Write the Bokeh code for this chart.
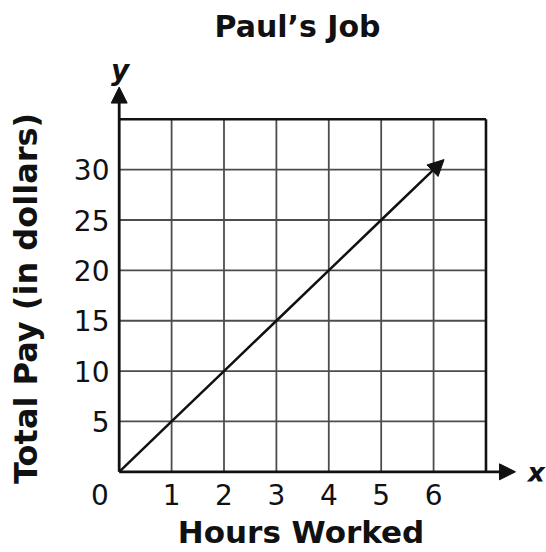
from bokeh.plotting import figure
from bokeh.models import Range1d, FixedTicker, Arrow, NormalHead, Label
from bokeh.embed import file_html
from bokeh.resources import INLINE

# ---- data ----
title_text = "Paul\u2019s Job"
x_label = "Hours Worked"
y_label = "Total Pay (in dollars)"
origin_label = "0"
x_ticks = [1, 2, 3, 4, 5, 6]
y_ticks = [5, 10, 15, 20, 25, 30]
x_max = 7
y_max = 35
hours = [0, 1, 2, 3, 4, 5, 6]
pay = [0, 5, 10, 15, 20, 25, 30]
arrow_end_hours = 6.2
arrow_end_pay = 31

FONT = "DejaVu Sans"
BLACK = "#111111"
FIG = "\u2007"      # figure space (used to shift centred labels)
PUNC = "\u2008"     # punctuation space

p = figure(width=546, height=552,
           x_range=Range1d(-0.166, 8.155), y_range=Range1d(-0.961, 42.03),
           output_backend="svg", toolbar_location=None,
           min_border_left=110, min_border_right=0,
           min_border_top=48, min_border_bottom=70,
           title=title_text, background_fill_color="white",
           border_fill_color="white")

p.title.text_font = FONT
p.title.text_font_size = "30px"
p.title.text_font_style = "bold"
p.title.text_color = BLACK
p.title.align = "left"
p.title.offset = 104
p.title.vertical_align = "bottom"
p.title.standoff = 10

p.xgrid.visible = False
p.ygrid.visible = False
p.outline_line_color = None

xa = p.xaxis[0]
ya = p.yaxis[0]
xa.ticker = FixedTicker(ticks=[0] + x_ticks)
xa.major_label_overrides = {0: origin_label + FIG + FIG + "\u200a"}
ya.ticker = FixedTicker(ticks=y_ticks)
xa.axis_label = x_label + FIG + FIG + PUNC
ya.axis_label = y_label + FIG + FIG + FIG

for ax in (xa, ya):
    ax.axis_label_text_font = FONT
    ax.axis_label_text_font_style = "bold"
    ax.axis_label_text_color = BLACK
    ax.major_label_text_font = FONT
    ax.major_label_text_font_size = "28px"
    ax.major_label_text_color = BLACK
    ax.major_tick_in = 0
    ax.major_tick_out = 0
    ax.minor_tick_in = 0
    ax.minor_tick_out = 0
    ax.axis_line_color = None

xa.axis_label_text_font_size = "31px"
ya.axis_label_text_font_size = "32px"
xa.major_label_standoff = -3
xa.axis_label_standoff = -1
ya.major_label_standoff = 1
ya.axis_label_standoff = 26

# grid, drawn only inside the 0..x_max / 0..y_max box
p.segment(x0=x_ticks, y0=0, x1=x_ticks, y1=y_max, line_color="#4d4d4d", line_width=1.8)
p.segment(x0=0, y0=y_ticks, x1=x_max, y1=y_ticks, line_color="#4d4d4d", line_width=1.8)
# box border (top and right)
p.segment(x0=[0, x_max], y0=[y_max, 0], x1=[x_max, x_max], y1=[y_max, y_max],
          line_color=BLACK, line_width=2.6)

# axes with arrow heads
p.add_layout(Arrow(x_start=0, y_start=0, x_end=7.563, y_end=0,
                   line_color=BLACK, line_width=2.8,
                   end=NormalHead(size=16, fill_color=BLACK, line_color=BLACK)))
p.add_layout(Arrow(x_start=0, y_start=0, x_end=0, y_end=38.2,
                   line_color=BLACK, line_width=2.8,
                   end=NormalHead(size=16, fill_color=BLACK, line_color=BLACK)))

# pay line
p.line(hours, pay, line_color=BLACK, line_width=2.5)
p.add_layout(Arrow(x_start=hours[-1], y_start=pay[-1],
                   x_end=arrow_end_hours, y_end=arrow_end_pay,
                   line_color=BLACK, line_width=2.5,
                   end=NormalHead(size=16, fill_color=BLACK, line_color=BLACK)))

# axis letters
p.add_layout(Label(x=7.96, y=-0.07, text="x", text_font=FONT, text_font_size="27px",
                   text_font_style="bold italic", text_color=BLACK,
                   text_align="center", text_baseline="middle"))
p.add_layout(Label(x=0.02, y=39.8, text="y", text_font=FONT, text_font_size="28px",
                   text_font_style="bold italic", text_color=BLACK,
                   text_align="center", text_baseline="alphabetic"))

open("out.html", "w").write(file_html(p, INLINE))
